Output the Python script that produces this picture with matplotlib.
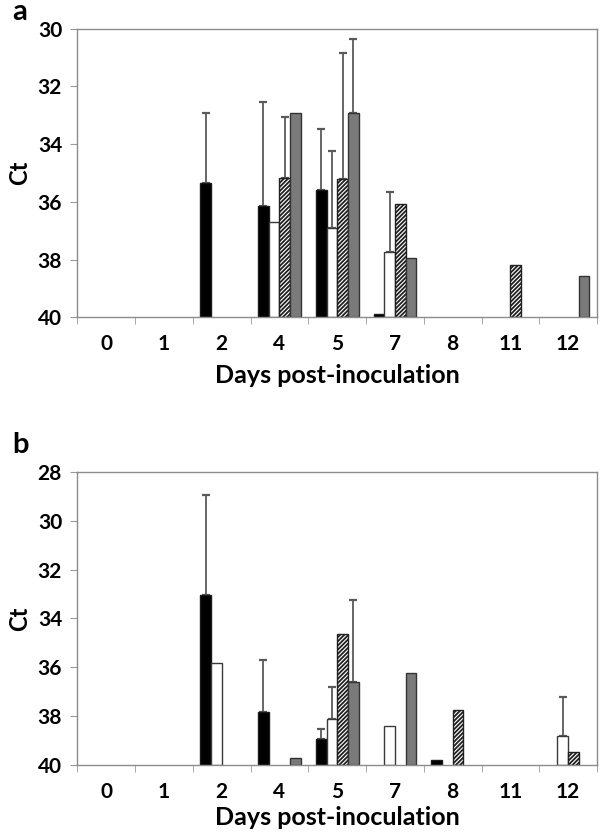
import matplotlib
matplotlib.use("Agg")
import matplotlib.pyplot as plt
import numpy as np

nan = np.nan

days = ['0', '1', '2', '4', '5', '7', '8', '11', '12']

# panel a
a_black = [nan, nan, 35.36, 36.13, 35.59, 39.89, nan, nan, nan]
a_black_err = [0, 0, 2.43, 3.58, 2.13, 0, 0, 0, 0]
a_white = [nan, nan, nan, 36.69, 36.90, 37.73, nan, nan, nan]
a_white_err = [0, 0, 0, 0, 2.65, 2.06, 0, 0, 0]
a_hatch = [nan, nan, nan, 35.18, 35.21, 36.06, nan, 38.20, nan]
a_hatch_err = [0, 0, 0, 2.11, 4.36, 0, 0, 0, 0]
a_gray = [nan, nan, nan, 32.91, 32.91, 37.96, nan, nan, 38.56]
a_gray_err = [0, 0, 0, 0, 2.54, 0, 0, 0, 0]

# panel b
b_black = [nan, nan, 33.04, 37.81, 38.92, nan, 39.79, nan, nan]
b_black_err = [0, 0, 4.10, 2.09, 0.38, 0, 0, 0, 0]
b_white = [nan, nan, 35.84, nan, 38.13, 38.39, nan, nan, 38.81]
b_white_err = [0, 0, 0, 0, 1.34, 0, 0, 0, 1.61]
b_hatch = [nan, nan, nan, nan, 34.65, nan, 37.75, nan, 39.45]
b_hatch_err = [0, 0, 0, 0, 0, 0, 0, 0, 0]
b_gray = [nan, nan, nan, 39.73, 36.61, 36.25, nan, nan, nan]
b_gray_err = [0, 0, 0, 0, 3.37, 0, 0, 0, 0]

plt.rcParams['font.family'] = ['Lato', 'DejaVu Sans']
plt.rcParams['font.weight'] = 'bold'
plt.rcParams['hatch.linewidth'] = 1.3

styles = [
    dict(color='black', edgecolor='#1a1a1a'),
    dict(color='white', edgecolor='#3a3a3a'),
    dict(color='white', edgecolor='#202020', hatch='////////'),
    dict(color='#7a7a7a', edgecolor='#333333'),
]


def panel(ax, series, errs, ymin, letter, lx, ly, xl_y):
    x = np.arange(len(days))
    w = 0.185
    for i, (vals, err, st) in enumerate(zip(series, errs, styles)):
        vals = np.array(vals, dtype=float)
        err = np.array(err, dtype=float)
        xs = x + (i - 1.5) * w
        ax.bar(xs, vals - 40, bottom=40, width=w, linewidth=1.0, zorder=2, **st)
        m = err > 0
        ax.errorbar(xs[m], vals[m], yerr=[err[m], np.zeros(m.sum())], fmt='none',
                    ecolor='#5a5a5a', elinewidth=1.3, capsize=3, capthick=1.6, zorder=1)
    ax.set_xlim(-0.5, len(days) - 0.5)
    ax.set_ylim(40, ymin)
    ax.set_yticks(np.arange(ymin, 40.1, 2))
    ax.set_xticks(x)
    ax.set_xticklabels(days)
    ax.set_xticks(np.arange(-0.5, len(days), 1), minor=True)
    ax.tick_params(axis='x', which='major', length=0, pad=12, labelsize=15)
    ax.tick_params(axis='x', which='minor', length=5, color='#999999', direction='out')
    ax.tick_params(axis='y', length=5, color='#999999', pad=6, labelsize=15)
    for s in ax.spines.values():
        s.set_color('#8c8c8c')
        s.set_linewidth(1.0)
    fig.text(lx, ly, letter, fontsize=21, fontweight='bold', va='baseline')
    fig.text(20 / 600, (ax.get_position().y0 + ax.get_position().y1) / 2, 'Ct',
             rotation=90, fontsize=17, fontweight='bold', ha='center', va='center')
    fig.text(337 / 600, xl_y, 'Days post-inoculation', fontsize=18,
             fontweight='bold', ha='center', va='baseline')


fig = plt.figure(figsize=(6, 8.38), dpi=100)
ax1 = fig.add_axes([0.129, 0.6214, 0.866, 0.3444])
ax2 = fig.add_axes([0.129, 0.0871, 0.866, 0.3497])

panel(ax1, [a_black, a_white, a_hatch, a_gray],
      [a_black_err, a_white_err, a_hatch_err, a_gray_err], 30,
      'a', 12 / 600, 1 - 20 / 838, 1 - 383 / 838)
panel(ax2, [b_black, b_white, b_hatch, b_gray],
      [b_black_err, b_white_err, b_hatch_err, b_gray_err], 28,
      'b', 12 / 600, 1 - 453 / 838, 1 - 825 / 838)

fig.savefig('out.png', dpi=100)
